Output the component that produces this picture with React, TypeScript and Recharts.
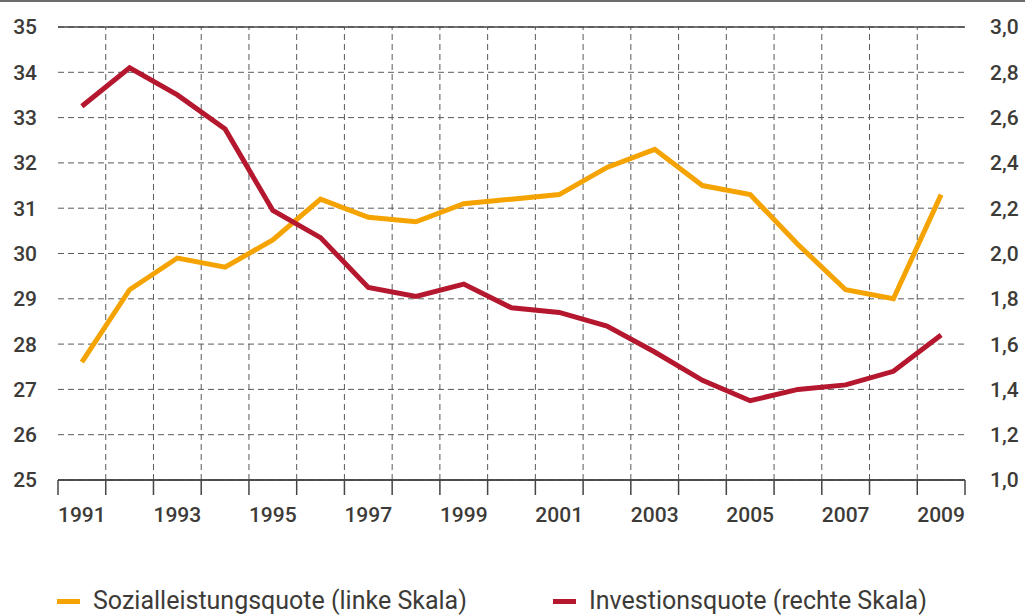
import { LineChart, Line, XAxis, YAxis, CartesianGrid, ReferenceLine, Legend } from 'recharts';

const years = [1991, 1992, 1993, 1994, 1995, 1996, 1997, 1998, 1999, 2000, 2001, 2002, 2003, 2004, 2005, 2006, 2007, 2008, 2009];
const sozialleistungsquote = [27.6, 29.2, 29.9, 29.7, 30.3, 31.2, 30.8, 30.7, 31.1, 31.2, 31.3, 31.9, 32.3, 31.5, 31.3, 30.2, 29.2, 29.0, 31.3];
const investitionsquote = [2.65, 2.82, 2.7, 2.55, 2.19, 2.07, 1.85, 1.81, 1.865, 1.76, 1.74, 1.68, 1.565, 1.44, 1.35, 1.4, 1.42, 1.48, 1.64];

const yearLabels = [1991, 1993, 1995, 1997, 1999, 2001, 2003, 2005, 2007, 2009];
const leftTicks = [25, 26, 27, 28, 29, 30, 31, 32, 33, 34, 35];
const rightTicks = [1.0, 1.2, 1.4, 1.6, 1.8, 2.0, 2.2, 2.4, 2.6, 2.8, 3.0];

// year boundaries (tick marks sit between the years)
const boundaries = [...years.map(y => y - 0.5), years[years.length - 1] + 0.5];
const innerBoundaries = boundaries.slice(1, -1);

const legendItems = [
  { label: 'Sozialleistungsquote (linke Skala)', color: '#F5A300' },
  { label: 'Investionsquote (rechte Skala)', color: '#B5172F' },
];

const chartData = years.map((year, i) => ({
  year,
  sozial: sozialleistungsquote[i],
  invest: investitionsquote[i],
}));

const TEXT = '#3d3b37';
const FONT = 'Roboto, "Noto Sans", sans-serif';

const renderLegend = () => (
  <div style={{ display: 'flex', paddingLeft: 57, fontFamily: FONT, fontSize: 25, color: TEXT, whiteSpace: 'nowrap' }}>
    {legendItems.map((item, i) => (
      <div key={item.label} style={{ display: 'flex', alignItems: 'center', width: i === 0 ? 496 : 'auto' }}>
        <span style={{ display: 'inline-block', width: 23, height: 5, background: item.color, marginRight: 13, marginTop: 2 }} />
        <span>{item.label}</span>
      </div>
    ))}
  </div>
);

const noLabel = () => <g />;

export default function App() {
  return (
    <div style={{ position: 'absolute', left: 0, top: 0, width: 1025, height: 615, background: '#fff', overflow: 'hidden' }}>
      <div style={{ position: 'absolute', left: 0, top: 0, width: 1025, height: 2, background: '#6b6b6b' }} />
      <LineChart width={1025} height={615} data={chartData} margin={{ top: 27, right: 0, bottom: 0, left: 0 }}>
        <CartesianGrid yAxisId="left" xAxisId="grid" vertical={false} stroke="#5a5a5a" strokeDasharray="6 4" />
        {innerBoundaries.map(b => (
          <ReferenceLine key={b} x={b} xAxisId="grid" yAxisId="left" stroke="#5a5a5a" strokeDasharray="6 4" />
        ))}
        <ReferenceLine y={35} xAxisId="grid" yAxisId="left" stroke="#444" strokeWidth={1.5} />
        <ReferenceLine y={25} xAxisId="grid" yAxisId="left" stroke="#444" strokeWidth={1.5} />
        <XAxis
          xAxisId="grid"
          dataKey="year"
          type="number"
          domain={[boundaries[0], boundaries[boundaries.length - 1]]}
          ticks={boundaries}
          interval={0}
          tick={noLabel}
          tickSize={15}
          height={1}
          stroke="#444"
          axisLine={{ stroke: '#444', strokeWidth: 1.5 }}
          tickLine={{ stroke: '#444', strokeWidth: 1.5 }}
        />
        <XAxis
          xAxisId="labels"
          dataKey="year"
          type="number"
          domain={[boundaries[0], boundaries[boundaries.length - 1]]}
          ticks={yearLabels}
          interval={0}
          axisLine={false}
          tickLine={false}
          tickSize={0}
          tickMargin={26}
          height={94}
          tick={{ fill: TEXT, fontSize: 21, fontWeight: 500, fontFamily: FONT }}
        />
        <YAxis
          yAxisId="left"
          domain={[25, 35]}
          ticks={leftTicks}
          width={58}
          axisLine={false}
          tickLine={false}
          tickSize={0}
          tickMargin={21}
          tick={{ fill: TEXT, fontSize: 21, fontWeight: 500, fontFamily: FONT }}
        />
        <YAxis
          yAxisId="right"
          orientation="right"
          domain={[1.0, 3.0]}
          ticks={rightTicks}
          width={60}
          axisLine={false}
          tickLine={false}
          tickSize={0}
          tickMargin={25}
          tickFormatter={(v: number) => v.toFixed(1).replace('.', ',')}
          tick={{ fill: TEXT, fontSize: 21, fontWeight: 500, fontFamily: FONT }}
        />
        <Line
          xAxisId="grid"
          yAxisId="left"
          dataKey="sozial"
          stroke="#F5A300"
          strokeWidth={5}
          dot={false}
          strokeLinejoin="miter"
          isAnimationActive={false}
        />
        <Line
          xAxisId="grid"
          yAxisId="right"
          dataKey="invest"
          stroke="#B5172F"
          strokeWidth={5}
          dot={false}
          strokeLinejoin="miter"
          isAnimationActive={false}
        />
        <Legend verticalAlign="bottom" height={40} content={renderLegend} wrapperStyle={{ left: 0, top: 586, width: 1025 }} />
      </LineChart>
    </div>
  );
}
